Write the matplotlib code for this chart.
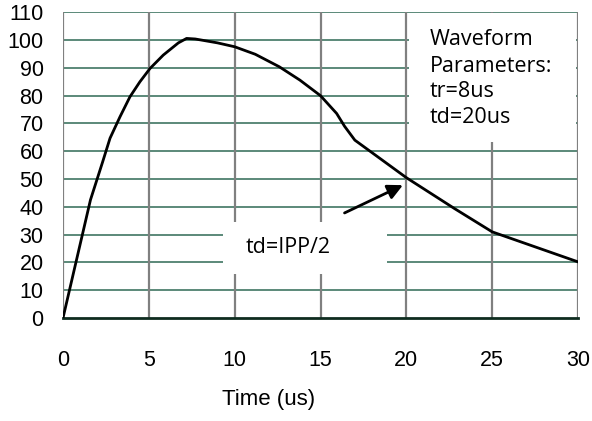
import matplotlib
matplotlib.use("Agg")
import matplotlib.pyplot as plt
from matplotlib.patches import Rectangle

# Data
time_us = [0, 1.6, 2.3, 2.74, 3.32, 3.9, 4.48, 5.07, 5.84, 6.72, 7.2, 7.7, 9.0, 10.0, 11.2,
           12.6, 13.8, 15.0, 15.94, 16.4, 17.0, 20.0, 22.8, 25.0, 30.0]
current = [0, 42.5, 56.0, 64.7, 72.4, 79.6, 85.0, 89.8, 94.6, 99.0, 100.6, 100.4, 99.0, 97.6, 94.9,
           90.4, 85.6, 80.0, 73.6, 69.0, 64.0, 50.5, 39.4, 31.0, 20.2]
x_ticks = [0, 5, 10, 15, 20, 25, 30]
y_ticks = [0, 10, 20, 30, 40, 50, 60, 70, 80, 90, 100, 110]
param_lines = ["Waveform", "Parameters:", "tr=8us", "td=20us"]
param_baselines = [98.2, 88.6, 79.6, 70.0]
note_text = "td=IPP/2"
note_xy = (13.1, 25.4)
arrow_start = (16.4, 37.8)
arrow_end = (19.8, 47.8)
box1 = (20.15, 63.3, 9.73, 46.4)   # x, y, w, h
box2 = (9.32, 15.8, 9.55, 18.7)

W, H = 592, 421
fig = plt.figure(figsize=(W / 100, H / 100), dpi=100)
L, R, B, T = 63, 578, 318, 12.3
ax = fig.add_axes([L / W, 1 - B / H, (R - L) / W, (B - T) / H])
ax.set_xlim(0, 30)
ax.set_ylim(0, 110)

green = "#2f6a55"
gray = "#808080"
for y in y_ticks[1:]:
    ax.axhline(y, color=green, lw=1.1, zorder=1)
for x in x_ticks:
    ax.axvline(x, color=gray, lw=1.6, zorder=1.2)

for s in ["top", "left", "right"]:
    ax.spines[s].set_visible(False)
ax.spines["bottom"].set_color("#0e2c1f")
ax.spines["bottom"].set_linewidth(2.0)
ax.spines["bottom"].set_zorder(3)

for bx in (box1, box2):
    ax.add_patch(Rectangle((bx[0], bx[1]), bx[2], bx[3], facecolor="white",
                           edgecolor="none", zorder=2))

ax.plot(time_us, current, color="black", lw=2.0, zorder=4, solid_joinstyle="round")

ax.set_xticks(x_ticks)
ax.set_yticks(y_ticks)
ax.tick_params(axis="both", length=0, labelsize=15.5)
ax.tick_params(axis="x", pad=23)
ax.tick_params(axis="y", pad=14)
for lab in ax.get_xticklabels() + ax.get_yticklabels():
    lab.set_fontfamily("Liberation Sans")

fig.text(269 / W, 1 - 400 / H, "Time (us)", ha="center", va="center",
         fontsize=16, family="Liberation Sans")

for line, yb in zip(param_lines, param_baselines):
    ax.text(21.37, yb, line, ha="left", va="baseline", fontsize=15.5,
            family="Open Sans", zorder=5)

ax.text(note_xy[0], note_xy[1], note_text, ha="center", va="center",
        fontsize=15.5, family="Open Sans", zorder=5)

ax.annotate("", xy=arrow_end, xytext=arrow_start,
            arrowprops=dict(arrowstyle="-|>,head_length=0.9,head_width=0.45",
                            color="black", lw=2.0, shrinkA=0, shrinkB=0),
            zorder=6)

fig.savefig("out.png", dpi=100)
